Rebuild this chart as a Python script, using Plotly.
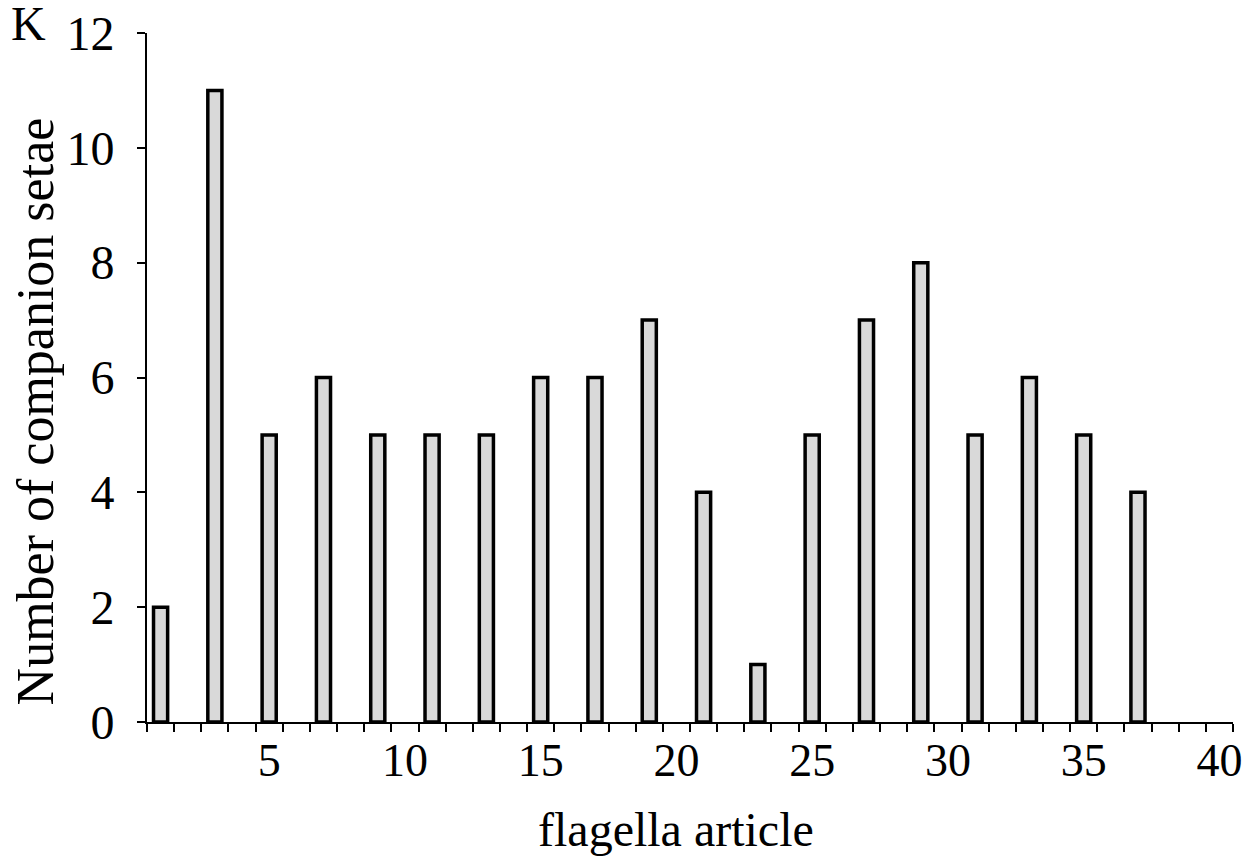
import plotly.graph_objects as go

# Data
articles = [1, 3, 5, 7, 9, 11, 13, 15, 17, 19, 21, 23, 25, 27, 29, 31, 33, 35, 37]
setae = [2, 11, 5, 6, 5, 5, 5, 6, 6, 7, 4, 1, 5, 7, 8, 5, 6, 5, 4]
x_tick_labels = [5, 10, 15, 20, 25, 30, 35, 40]
y_ticks = [0, 2, 4, 6, 8, 10, 12]
boundaries = [i + 0.5 for i in range(0, 41)]
x_title = "flagella article"
y_title = "Number of companion setae"
panel_label = "K"

FONT = "Liberation Serif"

fig = go.Figure(
    go.Bar(
        x=articles,
        y=setae,
        width=0.52,
        marker=dict(color="#d9d9d9", line=dict(color="black", width=3.5)),
    )
)

# the page body has an 8px margin, so the figure is sized to fit inside it
fig.update_layout(
    width=1247,
    height=848,
    margin=dict(l=139, r=22, t=25, b=134),
    paper_bgcolor="white",
    plot_bgcolor="white",
    showlegend=False,
    font=dict(family=FONT, color="black", size=46),
    annotations=[
        dict(
            text=panel_label,
            xref="paper", yref="paper",
            x=-0.1087, y=1.0131,
            xanchor="center", yanchor="middle",
            showarrow=False,
            font=dict(family=FONT, size=48, color="black"),
        ),
        dict(
            text=x_title,
            xref="paper", yref="paper",
            x=0.487, y=-0.1567,
            xanchor="center", yanchor="middle",
            showarrow=False,
            font=dict(family=FONT, size=48, color="black"),
        ),
        dict(
            text=y_title,
            xref="paper", yref="paper",
            x=-0.103, y=0.451,
            xanchor="center", yanchor="middle",
            textangle=-90,
            showarrow=False,
            font=dict(family=FONT, size=52, color="black"),
        ),
    ],
)

fig.update_xaxes(
    range=[0.5, 40.5],
    tickmode="array",
    tickvals=x_tick_labels,
    ticktext=[str(v) for v in x_tick_labels],
    ticks="",
    ticklabelstandoff=-3,
    ticklabeloverflow="allow",
    tickfont=dict(family=FONT, size=46, color="black"),
    showline=True,
    linecolor="black",
    linewidth=2,
    showgrid=False,
    zeroline=False,
    automargin=False,
    minor=dict(tickmode="array", tickvals=boundaries, ticks="outside",
               ticklen=8, tickwidth=2, tickcolor="black", showgrid=False),
)

fig.update_yaxes(
    range=[0, 12],
    tickmode="array",
    tickvals=y_ticks,
    ticks="outside",
    ticklen=8,
    tickwidth=2,
    tickcolor="black",
    ticklabelstandoff=13,
    ticklabeloverflow="allow",
    tickfont=dict(family=FONT, size=48, color="black"),
    showline=True,
    linecolor="black",
    linewidth=2,
    showgrid=False,
    zeroline=False,
    automargin=False,
)

fig.write_html("out.html")
